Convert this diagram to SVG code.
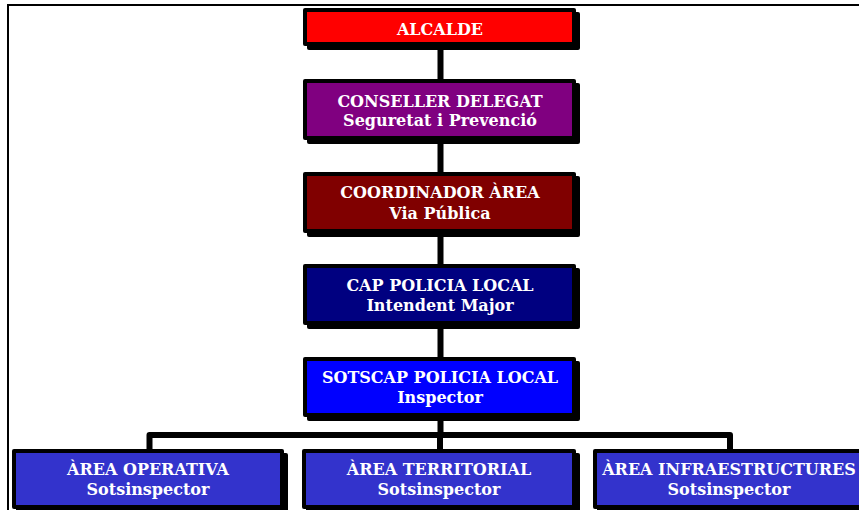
<svg xmlns="http://www.w3.org/2000/svg" width="859" height="510" viewBox="0 0 859 510">
<style>
.shadow{fill:#000}
.frame{fill:#000}
.t{font-family:"DejaVu Serif","Liberation Serif",serif;font-weight:bold;font-size:16px;fill:#fff;text-anchor:middle}
.conn{fill:none;stroke:#000;stroke-width:6;stroke-linejoin:round;stroke-linecap:butt}
</style>
<rect x="0" y="0" width="859" height="510" fill="#fff"/>
<path d="M8 510 V5 H859" fill="none" stroke="#000" stroke-width="2"/>
<g id="connectors">
<path class="conn" d="M440.5 46 V435"/>
<path class="conn" d="M149.5 449 V435 H730 V449"/>
<path class="conn" d="M440 435 V449"/>
</g>
<g id="alcalde">
<rect class="shadow" x="307" y="12" width="273" height="38" rx="2"/>
<rect class="frame" x="303" y="8" width="273" height="38" rx="2"/>
<rect x="307" y="12" width="265" height="30" fill="#ff0000"/>
<text class="t" x="440" y="35">ALCALDE</text>
</g>
<g id="conseller">
<rect class="shadow" x="307" y="83" width="273" height="61" rx="2"/>
<rect class="frame" x="303" y="79" width="273" height="61" rx="2"/>
<rect x="307" y="83" width="265" height="53" fill="#800080"/>
<text class="t" x="440" y="107">CONSELLER DELEGAT</text>
<text class="t" x="440" y="126">Seguretat i Prevenció</text>
</g>
<g id="coordinador">
<rect class="shadow" x="307" y="176" width="273" height="61" rx="2"/>
<rect class="frame" x="303" y="172" width="273" height="61" rx="2"/>
<rect x="307" y="176" width="265" height="53" fill="#800000"/>
<text class="t" x="440" y="198">COORDINADOR ÀREA</text>
<text class="t" x="440" y="219">Via Pública</text>
</g>
<g id="cap">
<rect class="shadow" x="307" y="268" width="273" height="61" rx="2"/>
<rect class="frame" x="303" y="264" width="273" height="61" rx="2"/>
<rect x="307" y="268" width="265" height="53" fill="#000080"/>
<text class="t" x="440" y="291">CAP POLICIA LOCAL</text>
<text class="t" x="440" y="311">Intendent Major</text>
</g>
<g id="sotscap">
<rect class="shadow" x="307" y="361" width="273" height="60" rx="2"/>
<rect class="frame" x="303" y="357" width="273" height="60" rx="2"/>
<rect x="307" y="361" width="265" height="52" fill="#0000ff"/>
<text class="t" x="440" y="383">SOTSCAP POLICIA LOCAL</text>
<text class="t" x="440" y="403">Inspector</text>
</g>
<g id="operativa">
<rect class="shadow" x="16" y="453" width="272" height="60" rx="2"/>
<rect class="frame" x="12" y="449" width="272" height="60" rx="2"/>
<rect x="16" y="453" width="264" height="52" fill="#3333cc"/>
<text class="t" x="148" y="475">ÀREA OPERATIVA</text>
<text class="t" x="148" y="495">Sotsinspector</text>
</g>
<g id="territorial">
<rect class="shadow" x="306" y="453" width="274" height="60" rx="2"/>
<rect class="frame" x="302" y="449" width="274" height="60" rx="2"/>
<rect x="306" y="453" width="266" height="52" fill="#3333cc"/>
<text class="t" x="439" y="475">ÀREA TERRITORIAL</text>
<text class="t" x="439" y="495">Sotsinspector</text>
</g>
<g id="infraestructures">
<rect class="shadow" x="597" y="453" width="273" height="60" rx="2"/>
<rect class="frame" x="593" y="449" width="273" height="60" rx="2"/>
<rect x="597" y="453" width="265" height="52" fill="#3333cc"/>
<text class="t" x="729" y="475">ÀREA INFRAESTRUCTURES</text>
<text class="t" x="729" y="495">Sotsinspector</text>
</g>
</svg>
